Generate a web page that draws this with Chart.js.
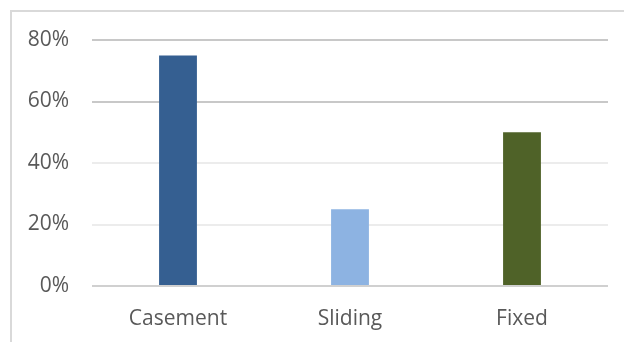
<!DOCTYPE html>
<html>
<head>
<meta charset="utf-8">
<script src="https://cdn.jsdelivr.net/npm/chart.js@4/dist/chart.umd.min.js"></script>
<style>
  html, body { margin: 0; padding: 0; background: #ffffff; }
  #wrap { width: 624px; height: 342px; position: relative; }
</style>
</head>
<body>
<div id="wrap"><canvas id="c" width="624" height="342"></canvas></div>
<script>
// Window types and their share of responses
const categories = ['Casement', 'Sliding', 'Fixed'];
const shares = [0.75, 0.25, 0.50];
const barColors = ['#355f91', '#8db3e2', '#4f6228'];
const yTicks = [0, 0.2, 0.4, 0.6, 0.8];
const gridColors = ['#d0d0d0', '#ececec', '#ececec', '#c8c8c8', '#c8c8c8'];

// Light frame around the chart, open on the right and bottom
const framePlugin = {
  id: 'frame',
  beforeDraw(chart) {
    const ctx = chart.ctx;
    ctx.save();
    ctx.fillStyle = '#ffffff';
    ctx.fillRect(0, 0, chart.width, chart.height);
    ctx.strokeStyle = '#d9d9d9';
    ctx.lineWidth = 2;
    ctx.strokeRect(11, 11, 800, 800);
    ctx.restore();
  }
};

new Chart(document.getElementById('c'), {
  type: 'bar',
  data: {
    labels: categories,
    datasets: [{
      data: shares,
      backgroundColor: barColors,
      borderWidth: 0,
      barPercentage: 0.44,
      categoryPercentage: 0.5
    }]
  },
  options: {
    responsive: false,
    animation: false,
    devicePixelRatio: 1,
    layout: { padding: { left: 0, right: 16, top: 40, bottom: 0 } },
    plugins: { legend: { display: false }, tooltip: { enabled: false } },
    scales: {
      x: {
        grid: { display: false, drawTicks: false },
        border: { display: false },
        ticks: {
          color: '#595959',
          font: { family: 'Open Sans', size: 21 },
          padding: 20
        },
        afterFit(s) { s.height = 56; }
      },
      y: {
        min: 0,
        max: 0.8,
        afterBuildTicks(s) { s.ticks = yTicks.map(v => ({ value: v })); },
        grid: {
          drawTicks: false,
          lineWidth: 2,
          color: ctx => gridColors[ctx.index] || '#d9d9d9'
        },
        border: { display: false },
        ticks: {
          color: '#595959',
          font: { family: 'Open Sans', size: 21 },
          padding: 23,
          callback: v => Math.round(v * 100) + '%'
        },
        afterFit(s) { s.width = 92; }
      }
    }
  },
  plugins: [framePlugin]
});
</script>
</body>
</html>
